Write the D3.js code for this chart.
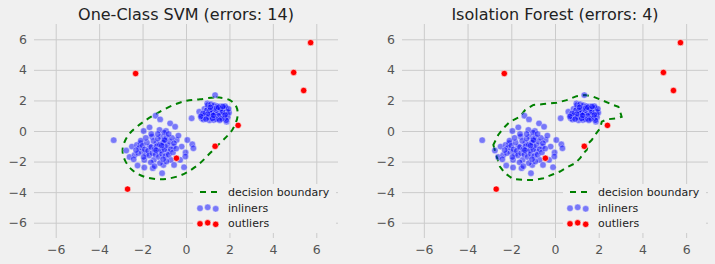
<!DOCTYPE html>
<html><head><meta charset="utf-8">
<script src="https://cdn.jsdelivr.net/npm/d3@7"></script>
<style>
body{margin:0;background:#f0f0f0;}
svg{display:block;}
text{font-family:"DejaVu Sans",sans-serif;}
</style>
</head><body>
<svg id="chart" width="715" height="264"></svg>
<script>
const titles = ["One-Class SVM (errors: 14)", "Isolation Forest (errors: 4)"];
const tickValues = [-6, -4, -2, 0, 2, 4, 6];
const legendLabels = ["decision boundary", "inliners", "outliers"];

const inliersUpper = [
[1.34,2.35],[0.98,1.81],[0.26,0.83],[0.61,1.26],[0.72,0.83],[0.72,1.0],[1.87,0.61],
[0.85,1.45],[0.9,1.2],[0.95,0.95],[0.8,0.75],[1.0,1.5],[1.05,1.3],[1.1,1.05],[1.12,0.85],[1.08,0.7],
[1.2,1.6],[1.22,1.4],[1.25,1.2],[1.18,1.0],[1.3,0.9],[1.28,0.72],[1.35,1.55],[1.38,1.3],[1.4,1.1],
[1.42,0.95],[1.5,1.45],[1.52,1.25],[1.55,1.05],[1.48,0.8],[1.6,1.6],[1.62,1.35],[1.65,1.15],[1.6,0.92],
[1.7,1.45],[1.75,1.25],[1.72,1.0],[1.78,0.82],[1.85,1.5],[1.88,1.3],[1.9,1.1],[1.92,0.9],[1.85,0.7],
[1.0,1.7],[1.15,1.75],[1.3,1.68],[1.45,1.62],[0.88,1.05],[0.95,1.35],[1.05,0.9],[1.15,1.2],[1.32,1.05],
[1.45,1.2],[1.58,1.2],[1.68,1.25],[1.25,1.3],[1.35,1.2],[1.2,1.15],[1.4,1.35],[1.3,1.45],[1.1,1.35],
[1.5,1.0],[1.65,0.8],[1.0,1.1],[0.78,1.15],[0.68,0.95],[1.38,0.78],[1.55,0.7],[1.22,0.82],[1.98,1.2],
[1.96,1.45],[1.8,1.62],[1.12,1.55],[0.92,0.78],[1.42,1.5],[1.6,1.45],[1.26,1.02],[1.5,1.55],[1.8,1.05],[1.7,1.6]
];

const inliersLower = [
[-3.33,-0.6],[-2.75,-1.28],[-2.6,-1.7],[-2.49,-1.02],[-2.37,-1.57],[-2.41,-1.85],[-2.23,-2.26],[-2.26,-0.91],
[-2.1,-0.8],[-2.08,-0.63],[-2.03,-1.35],[-1.92,-2.39],[-1.92,-1.89],[-1.95,0.0],[-1.83,-1.5],[-1.68,0.24],
[-1.68,-1.02],[-1.57,-0.37],[-1.53,-2.43],[-1.48,-1.89],[-1.4,1.0],[-1.34,-0.8],[-1.27,-1.35],[-1.22,0.07],
[-1.19,0.76],[-1.15,-0.37],[-1.1,-2.76],[-1.04,-2.22],[-0.99,-1.02],[-1.0,-0.54],[-0.92,0.0],[-0.73,0.5],
[-0.7,-1.89],[-0.58,-1.02],[-0.55,-2.22],[-0.5,0.28],[-0.43,-0.59],[-0.27,-1.89],[-0.09,-2.37],[-0.02,-1.41],
[0.06,-0.59],[0.29,-0.87],[0.34,-1.13],[-0.2,-1.02],[-0.03,-1.67],[-0.84,-1.35],
[-2.15,-1.1],[-2.0,-0.95],[-1.9,-1.2],[-1.8,-0.75],[-1.75,-1.3],[-1.7,-1.6],[-1.6,-1.05],[-1.55,-1.45],
[-1.5,-0.65],[-1.45,-1.2],[-1.4,-1.55],[-1.35,-1.0],[-1.3,-0.5],[-1.25,-1.7],[-1.2,-0.9],[-1.15,-1.25],
[-1.1,-1.5],[-1.05,-0.75],[-1.0,-1.2],[-0.95,-1.65],[-0.9,-0.4],[-0.85,-0.95],[-0.8,-1.55],[-0.75,-0.7],
[-0.7,-1.2],[-0.65,-0.45],[-0.6,-1.4],[-0.55,-0.8],[-1.62,-2.05],[-1.2,-2.1],[-0.9,-2.0],[-2.2,-1.45],
[-1.85,-0.45],[-1.6,-0.2],[-1.3,-0.2],[-1.0,-0.1],[-0.8,-0.2],[-2.3,-1.25],[-1.45,-2.3],[-0.45,-1.15],
[-0.35,-0.3],[-1.95,-1.7],[-1.05,-1.85],[-1.38,-1.25],[-1.12,-0.95],[-0.98,-0.6]
];

const outliers = [
[-2.32,3.76],[5.74,5.78],[4.96,3.83],[5.42,2.65],[2.40,0.37],[1.34,-1.0],[-0.44,-1.78],[-2.69,-3.80]
];

const svmBoundary = [
[0.64,2.07],[1.40,2.20],[2.02,2.02],[2.32,1.59],[2.37,0.93],[2.17,0.17],[1.94,-0.26],[1.56,-0.80],
[1.10,-1.46],[0.64,-2.11],[0.18,-2.59],[-0.27,-2.91],[-0.89,-3.13],[-1.34,-3.15],[-1.95,-2.98],
[-2.49,-2.54],[-2.82,-1.89],[-2.92,-1.24],[-2.79,-0.59],[-2.49,0.0],[-1.95,0.61],[-1.34,1.15],
[-0.58,1.70],[0.03,1.98]
];

const iforestBoundary = [
[-2.82,-0.91],[-2.67,-1.67],[-2.52,-2.33],[-2.29,-2.76],[-1.91,-3.15],[-1.45,-3.20],[-0.99,-3.20],
[-0.53,-3.09],[-0.08,-2.83],[0.23,-2.65],[0.61,-2.33],[0.92,-2.11],[1.15,-1.78],[1.30,-1.46],[1.45,-1.24],
[1.53,-0.80],[1.68,-0.59],[1.83,-0.26],[2.06,0.17],[2.14,0.61],[2.37,0.76],[2.82,0.83],[3.05,0.93],
[2.98,1.26],[2.90,1.59],[2.67,1.70],[2.21,1.98],[1.76,2.24],[1.37,2.35],[0.99,2.28],[0.53,2.02],
[0.08,1.85],[-0.53,1.76],[-0.99,1.70],[-1.37,1.37],[-1.60,0.93],[-2.06,0.61],[-2.37,0.17],[-2.60,-0.26]
];

const inliers = inliersUpper.concat(inliersLower);
const svg = d3.select("#chart");

const panels = [
  {title: titles[0], boundary: svmBoundary, curve: d3.curveCatmullRomClosed, left: 34, right: 338},
  {title: titles[1], boundary: iforestBoundary, curve: d3.curveLinearClosed, left: 402, right: 708}
];
const plotTop = 24, plotBottom = 238;

panels.forEach(p => {
  const x = d3.scaleLinear().domain([-7, 7]).range([p.left, p.right]);
  const y = d3.scaleLinear().domain([-7, 7]).range([plotBottom, plotTop]);
  const g = svg.append("g");

  const xAxis = g.append("g").attr("transform", `translate(0,${plotBottom})`)
    .call(d3.axisBottom(x).tickValues(tickValues).tickSize(-(plotBottom - plotTop)).tickPadding(7));
  const yAxis = g.append("g").attr("transform", `translate(${p.left},0)`)
    .call(d3.axisLeft(y).tickValues(tickValues).tickSize(-(p.right - p.left)).tickPadding(7));
  [xAxis, yAxis].forEach(a => {
    a.select(".domain").remove();
    a.selectAll("line").attr("stroke", "#cbcbcb").attr("stroke-width", 1);
    a.selectAll("text").attr("fill", "#555").style("font-size", "12.5px").style("font-family", "DejaVu Sans, sans-serif");
  });

  g.append("text").attr("x", (p.left + p.right) / 2).attr("y", 20)
    .attr("text-anchor", "middle").attr("fill", "#222").style("font-size", "16px").text(p.title);

  const line = d3.line().x(d => x(d[0])).y(d => y(d[1])).curve(p.curve);
  g.append("path").attr("d", line(p.boundary)).attr("fill", "none")
    .attr("stroke", "#008000").attr("stroke-width", 2).attr("stroke-dasharray", "6,5");

  g.append("g").selectAll("circle").data(inliers).join("circle")
    .attr("cx", d => x(d[0])).attr("cy", d => y(d[1])).attr("r", 3.2)
    .attr("fill", "rgba(0,0,255,0.5)").attr("stroke", "rgba(255,255,255,0.6)").attr("stroke-width", 0.6);

  g.append("g").selectAll("circle").data(outliers).join("circle")
    .attr("cx", d => x(d[0])).attr("cy", d => y(d[1])).attr("r", 3.2)
    .attr("fill", "#ff0000").attr("stroke", "#ffffff").attr("stroke-width", 0.6);

  // legend
  const R = p.right;
  const lg = g.append("g");
  lg.append("rect").attr("x", R - 145).attr("y", 184).attr("width", 143).attr("height", 49).attr("fill", "#f0f0f0");
  const rows = [192, 208, 223.5];
  lg.append("line").attr("x1", R - 138).attr("x2", R - 121).attr("y1", rows[0]).attr("y2", rows[0])
    .attr("stroke", "#008000").attr("stroke-width", 2).attr("stroke-dasharray", "6,5");
  const offs = [[-138, 0.3], [-130.3, -0.7], [-122.3, 0.8]];
  offs.forEach(o => {
    lg.append("circle").attr("cx", R + o[0]).attr("cy", rows[1] + o[1]).attr("r", 3.2)
      .attr("fill", "rgba(0,0,255,0.5)").attr("stroke", "rgba(255,255,255,0.6)").attr("stroke-width", 0.6);
    lg.append("circle").attr("cx", R + o[0]).attr("cy", rows[2] + o[1]).attr("r", 3.2)
      .attr("fill", "#ff0000").attr("stroke", "#ffffff").attr("stroke-width", 0.6);
  });
  legendLabels.forEach((t, i) => {
    lg.append("text").attr("x", R - 110).attr("y", rows[i]).attr("dy", "0.35em")
      .attr("fill", "#222").style("font-size", "11px").text(t);
  });
});
</script>
</body></html>
